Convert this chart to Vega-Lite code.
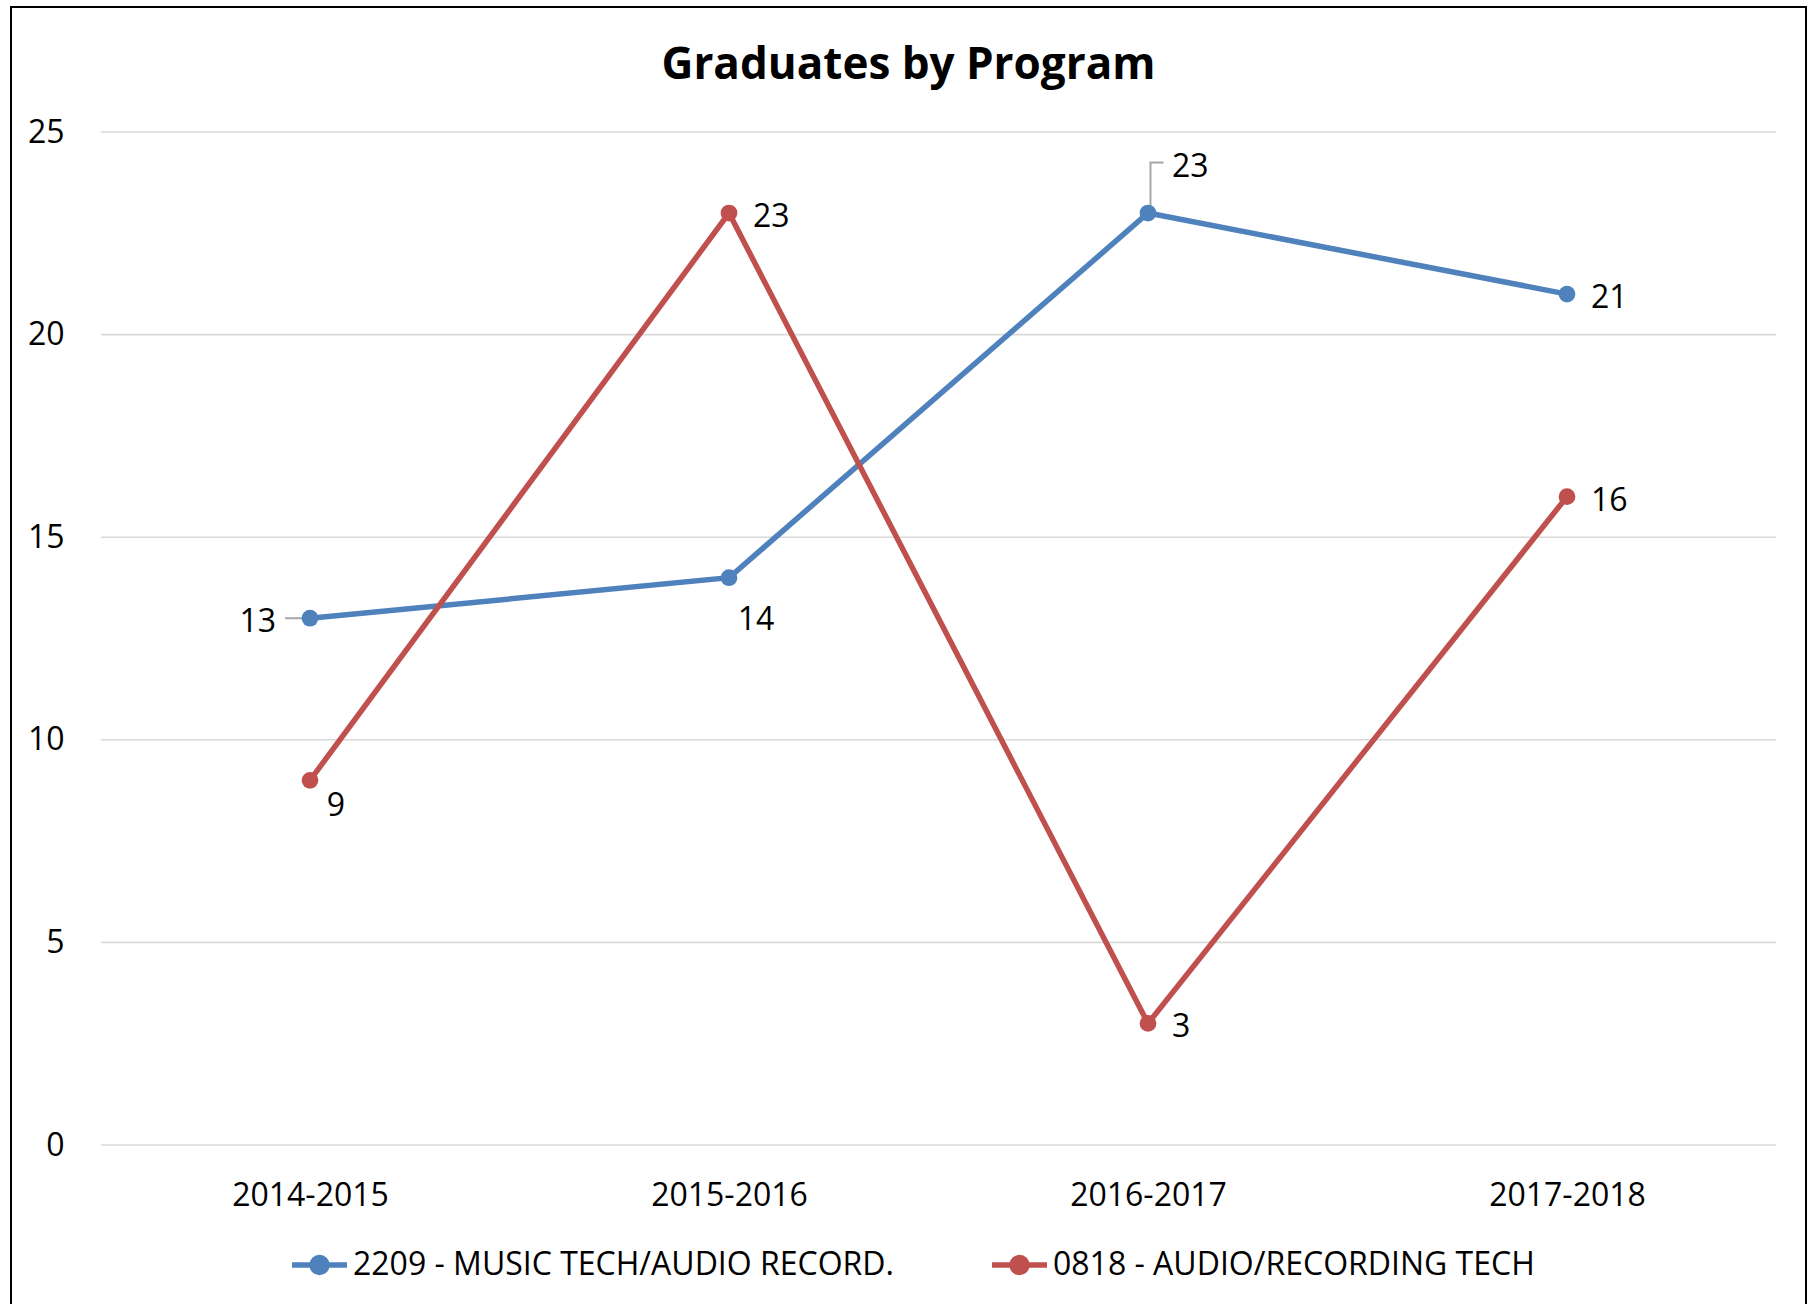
{
  "$schema": "https://vega.github.io/schema/vega-lite/v6.json",
  "width": 1795,
  "height": 1298,
  "autosize": {"type": "none"},
  "padding": {"left": 11, "top": 7, "right": 6, "bottom": 0},
  "background": "white",
  "config": {
    "view": {"stroke": "#000000", "strokeWidth": 2},
    "font": "Open Sans",
    "axisX": {"orient": "bottom", "offset": -100, "ticks": false, "tickSize": 0, "domain": false, "grid": false, "labelPadding": 0, "labelBaseline": "alphabetic", "labelFont": "Open Sans", "labelFontSize": 32, "labelColor": "#000000", "labelAngle": 0, "labelOverlap": false},
    "axisY": {"orient": "left", "offset": -53, "ticks": false, "tickSize": 0, "domain": false, "grid": false, "labelPadding": 0, "labelFont": "Open Sans", "labelFontSize": 32, "labelColor": "#000000", "labelOverlap": false}
  },
  "title": {"text": "Graduates by Program", "orient": "top", "anchor": "middle", "baseline": "alphabetic", "offset": -116, "font": "Open Sans", "fontSize": 44, "fontWeight": "bold", "color": "#000000"},
  "datasets": {
    "grads": [
      {"year": "2014-2015", "series": "2209 - MUSIC TECH/AUDIO RECORD.", "value": 13},
      {"year": "2015-2016", "series": "2209 - MUSIC TECH/AUDIO RECORD.", "value": 14},
      {"year": "2016-2017", "series": "2209 - MUSIC TECH/AUDIO RECORD.", "value": 23},
      {"year": "2017-2018", "series": "2209 - MUSIC TECH/AUDIO RECORD.", "value": 21},
      {"year": "2014-2015", "series": "0818 - AUDIO/RECORDING TECH", "value": 9},
      {"year": "2015-2016", "series": "0818 - AUDIO/RECORDING TECH", "value": 23},
      {"year": "2016-2017", "series": "0818 - AUDIO/RECORDING TECH", "value": 3},
      {"year": "2017-2018", "series": "0818 - AUDIO/RECORDING TECH", "value": 16}
    ],
    "grid": [{"g": 0}, {"g": 5}, {"g": 10}, {"g": 15}, {"g": 20}, {"g": 25}]
  },
  "layer": [
    {
      "data": {"name": "grid"},
      "mark": {"type": "rule", "color": "#d9d9d9", "strokeWidth": 1.6, "xOffset": -209, "x2Offset": 209},
      "encoding": {
        "x": {"datum": "2014-2015", "type": "nominal", "scale": {"type": "point", "domain": ["2014-2015", "2015-2016", "2016-2017", "2017-2018"], "range": [299, 1556], "padding": 0}, "axis": {"title": null}},
        "x2": {"datum": "2017-2018"},
        "y": {"field": "g", "type": "quantitative", "scale": {"domain": [0, 25], "range": [1138, 125], "nice": false, "zero": false}, "axis": {"title": null, "values": [0, 5, 10, 15, 20, 25]}}
      }
    },
    {
      "data": {"name": "grads"},
      "transform": [{"filter": "datum.series == '2209 - MUSIC TECH/AUDIO RECORD.' && datum.year == '2014-2015'"}],
      "mark": {"type": "rule", "color": "#a6a6a6", "strokeWidth": 2, "xOffset": -25, "x2Offset": -5},
      "encoding": {
        "x": {"field": "year", "type": "nominal", "axis": {"title": null}},
        "x2": {"field": "year"},
        "y": {"field": "value", "type": "quantitative", "axis": {"title": null}}
      }
    },
    {
      "data": {"name": "grads"},
      "transform": [{"filter": "datum.series == '2209 - MUSIC TECH/AUDIO RECORD.' && datum.year == '2016-2017'"}],
      "mark": {"type": "rule", "color": "#a6a6a6", "strokeWidth": 2, "xOffset": 2.5, "yOffset": -7, "y2Offset": -50.5},
      "encoding": {
        "x": {"field": "year", "type": "nominal", "axis": {"title": null}},
        "y": {"field": "value", "type": "quantitative", "axis": {"title": null}},
        "y2": {"field": "value"}
      }
    },
    {
      "data": {"name": "grads"},
      "transform": [{"filter": "datum.series == '2209 - MUSIC TECH/AUDIO RECORD.' && datum.year == '2016-2017'"}],
      "mark": {"type": "rule", "color": "#a6a6a6", "strokeWidth": 2, "xOffset": 1.5, "x2Offset": 15.5, "yOffset": -50.5},
      "encoding": {
        "x": {"field": "year", "type": "nominal", "axis": {"title": null}},
        "x2": {"field": "year"},
        "y": {"field": "value", "type": "quantitative", "axis": {"title": null}}
      }
    },
    {
      "data": {"name": "grads"},
      "mark": {"type": "line", "strokeWidth": 5.5},
      "encoding": {
        "x": {"field": "year", "type": "nominal", "axis": {"title": null}},
        "y": {"field": "value", "type": "quantitative", "axis": {"title": null}},
        "color": {
          "field": "series", "type": "nominal",
          "scale": {"domain": ["2209 - MUSIC TECH/AUDIO RECORD.", "0818 - AUDIO/RECORDING TECH"], "range": ["#4f81bd", "#c0504d"]},
          "legend": {
            "orient": "none", "legendX": 278, "legendY": 1227.5, "direction": "horizontal", "title": null,
            "symbolType": "M-1,0H1M-0.27,0A0.27,0.27,0,1,1,0.27,0A0.27,0.27,0,1,1,-0.27,0Z",
            "symbolSize": 3025, "symbolStrokeWidth": 5.5,
            "labelFont": "Open Sans", "labelFontSize": 32, "labelColor": "#000000", "labelOffset": 3, "labelLimit": 1000,
            "columnPadding": 87, "padding": 0,
            "encode": {"symbols": {"update": {"fill": {"scale": "color", "field": "value"}, "stroke": {"scale": "color", "field": "value"}, "opacity": {"value": 1}}}}
          }
        }
      }
    },
    {
      "data": {"name": "grads"},
      "mark": {"type": "point", "filled": true, "size": 280, "opacity": 1},
      "encoding": {
        "x": {"field": "year", "type": "nominal", "axis": {"title": null}},
        "y": {"field": "value", "type": "quantitative", "axis": {"title": null}},
        "color": {"field": "series", "type": "nominal"}
      }
    },
    {
      "data": {"name": "grads"},
      "transform": [{"filter": "(datum.series == '0818 - AUDIO/RECORDING TECH' && datum.year != '2014-2015') || (datum.series == '2209 - MUSIC TECH/AUDIO RECORD.' && datum.year == '2017-2018')"}],
      "mark": {"type": "text", "align": "left", "baseline": "middle", "dx": 24, "dy": 4, "font": "Open Sans", "fontSize": 32, "fill": "#000000"},
      "encoding": {
        "x": {"field": "year", "type": "nominal", "axis": {"title": null}},
        "y": {"field": "value", "type": "quantitative", "axis": {"title": null}},
        "text": {"field": "value", "type": "quantitative"}
      }
    },
    {
      "data": {"name": "grads"},
      "transform": [{"filter": "datum.series == '2209 - MUSIC TECH/AUDIO RECORD.' && datum.year == '2016-2017'"}],
      "mark": {"type": "text", "align": "left", "baseline": "middle", "dx": 24, "dy": -46.5, "font": "Open Sans", "fontSize": 32, "fill": "#000000"},
      "encoding": {
        "x": {"field": "year", "type": "nominal", "axis": {"title": null}},
        "y": {"field": "value", "type": "quantitative", "axis": {"title": null}},
        "text": {"field": "value", "type": "quantitative"}
      }
    },
    {
      "data": {"name": "grads"},
      "transform": [{"filter": "datum.series == '2209 - MUSIC TECH/AUDIO RECORD.' && datum.year == '2014-2015'"}],
      "mark": {"type": "text", "align": "right", "baseline": "middle", "dx": -34, "dy": 4, "font": "Open Sans", "fontSize": 32, "fill": "#000000"},
      "encoding": {
        "x": {"field": "year", "type": "nominal", "axis": {"title": null}},
        "y": {"field": "value", "type": "quantitative", "axis": {"title": null}},
        "text": {"field": "value", "type": "quantitative"}
      }
    },
    {
      "data": {"name": "grads"},
      "transform": [{"filter": "datum.series == '0818 - AUDIO/RECORDING TECH' && datum.year == '2014-2015'"}],
      "mark": {"type": "text", "align": "center", "baseline": "middle", "dx": 26, "dy": 26, "font": "Open Sans", "fontSize": 32, "fill": "#000000"},
      "encoding": {
        "x": {"field": "year", "type": "nominal", "axis": {"title": null}},
        "y": {"field": "value", "type": "quantitative", "axis": {"title": null}},
        "text": {"field": "value", "type": "quantitative"}
      }
    },
    {
      "data": {"name": "grads"},
      "transform": [{"filter": "datum.series == '2209 - MUSIC TECH/AUDIO RECORD.' && datum.year == '2015-2016'"}],
      "mark": {"type": "text", "align": "center", "baseline": "middle", "dx": 27, "dy": 42.5, "font": "Open Sans", "fontSize": 32, "fill": "#000000"},
      "encoding": {
        "x": {"field": "year", "type": "nominal", "axis": {"title": null}},
        "y": {"field": "value", "type": "quantitative", "axis": {"title": null}},
        "text": {"field": "value", "type": "quantitative"}
      }
    }
  ]
}
